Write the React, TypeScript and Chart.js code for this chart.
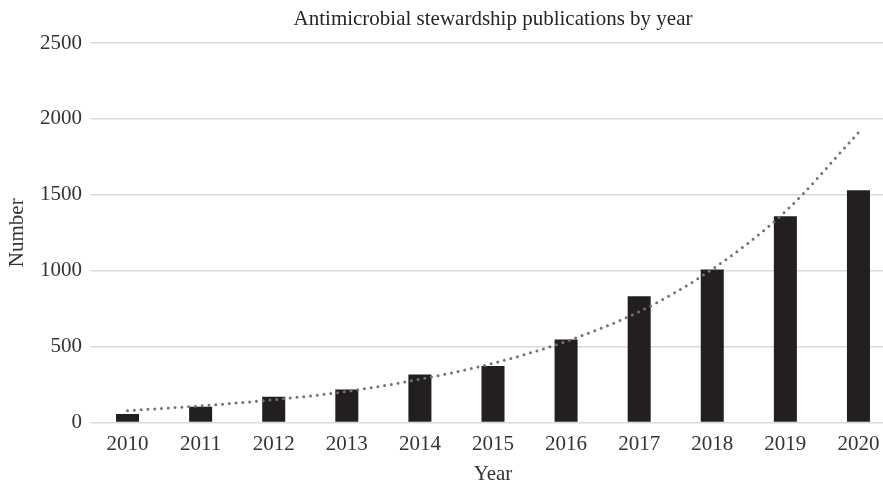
import React, { useEffect, useRef } from "react";
import { Chart, registerables } from "chart.js";

Chart.register(...registerables);

const years = ["2010", "2011", "2012", "2013", "2014", "2015", "2016", "2017", "2018", "2019", "2020"];
const publications = [56, 104, 170, 218, 317, 372, 547, 832, 1008, 1359, 1530];
const trend = [78, 110, 150, 205, 285, 390, 535, 730, 1010, 1390, 1910];
const yTicks = [0, 500, 1000, 1500, 2000, 2500];
const chartTitle = "Antimicrobial stewardship publications by year";

const FONT = "'Liberation Serif', 'Times New Roman', serif";

const titlePlugin = {
  id: "areaTitle",
  afterDraw(chart: any) {
    const { ctx, chartArea } = chart;
    ctx.save();
    ctx.font = `21px ${FONT}`;
    ctx.fillStyle = "#262626";
    ctx.textAlign = "center";
    ctx.textBaseline = "middle";
    ctx.fillText(chartTitle, (chartArea.left + chartArea.right) / 2, 19);
    ctx.restore();
  },
};

export default function App() {
  const ref = useRef<HTMLCanvasElement | null>(null);

  useEffect(() => {
    if (!ref.current) return;
    const chart = new Chart(ref.current, {
      type: "bar",
      data: {
        labels: years,
        datasets: [
          {
            type: "line",
            label: "Trend",
            data: trend,
            borderColor: "#737373",
            borderWidth: 3,
            borderDash: [0, 6.8],
            borderCapStyle: "round",
            cubicInterpolationMode: "monotone",
            pointRadius: 0,
            fill: false,
            order: 0,
          } as any,
          {
            type: "bar",
            label: "Publications",
            data: publications,
            backgroundColor: "#231f20",
            borderWidth: 0,
            barPercentage: 0.315,
            categoryPercentage: 1,
            order: 1,
          },
        ],
      },
      options: {
        responsive: false,
        animation: false,
        layout: { padding: { left: 0, right: 5, top: 43, bottom: 0 } },
        plugins: {
          legend: { display: false },
          tooltip: { enabled: false },
          title: { display: false },
        },
        scales: {
          x: {
            grid: { display: false, drawTicks: false },
            border: { display: false },
            ticks: {
              color: "#333333",
              font: { family: FONT, size: 21 },
              padding: 9,
              maxRotation: 0,
            },
            title: {
              display: true,
              text: "Year",
              color: "#333333",
              font: { family: FONT, size: 21, lineHeight: 0.85 },
              padding: { top: 0, bottom: 0 },
            },
            afterFit: (scale: any) => {
              scale.height = 60.5;
            },
          },
          y: {
            min: 0,
            max: 2500,
            afterBuildTicks: (scale: any) => {
              scale.ticks = yTicks.map((v) => ({ value: v }));
            },
            grid: { color: "#d9d9d9", lineWidth: 1.5, drawTicks: false },
            border: { display: false },
            ticks: {
              color: "#333333",
              font: { family: FONT, size: 21 },
              padding: 9,
              callback: (v: any) => String(v),
            },
            title: {
              display: true,
              text: "Number",
              color: "#333333",
              font: { family: FONT, size: 21, lineHeight: 1.2 },
              padding: { top: 4.4, bottom: 0 },
            },
            afterFit: (scale: any) => {
              scale.width = 91;
            },
          },
        },
      },
      plugins: [titlePlugin],
    });
    return () => chart.destroy();
  }, []);

  return (
    <div style={{ position: "absolute", left: 0, top: 0, width: 883, height: 483, overflow: "hidden", background: "#ffffff" }}>
      <canvas ref={ref} width={900} height={483} style={{ display: "block", width: 900, height: 483 }} />
    </div>
  );
}
